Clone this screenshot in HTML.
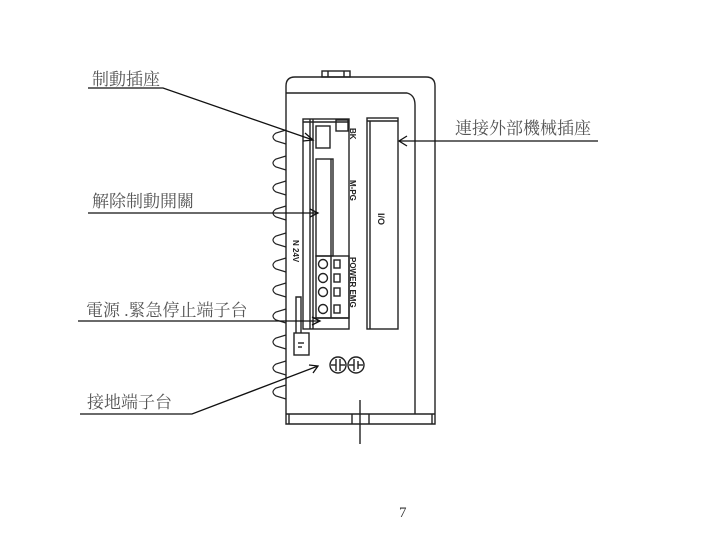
<!DOCTYPE html>
<html><head><meta charset="utf-8"><style>
html,body{margin:0;padding:0;background:#fff;}
svg{display:block}
.t{font-family:"Liberation Serif","Noto Serif CJK SC","Noto Sans CJK TC",serif;fill:#555;font-size:17px}
.s{font-family:"Liberation Sans",sans-serif;font-size:8px;font-weight:bold;fill:#222}
</style></head><body>
<svg width="727" height="557" viewBox="0 0 727 557" xmlns="http://www.w3.org/2000/svg">
<g fill="none" stroke="#222" stroke-width="1.4">
<path d="M286,424 L286,86 Q286,77 295,77 L426,77 Q435,77 435,86 L435,424 Z"/>
<rect x="322" y="71" width="28" height="6"/>
<line x1="328" y1="71" x2="328" y2="77"/><line x1="344" y1="71" x2="344" y2="77"/>
<path d="M286,93 L407,93 Q415,95 415,105 L415,414"/>
<line x1="286" y1="414" x2="435" y2="414"/>
<line x1="289" y1="414" x2="289" y2="424"/><line x1="352" y1="414" x2="352" y2="424"/>
<line x1="369" y1="414" x2="369" y2="424"/><line x1="432" y1="414" x2="432" y2="424"/>
<line x1="360" y1="400" x2="360" y2="444"/>
<rect x="303" y="119" width="46" height="210"/>
<line x1="310" y1="119" x2="310" y2="329"/><line x1="313" y1="119" x2="313" y2="329"/>
<line x1="303" y1="122" x2="349" y2="122"/>
<rect x="316" y="126" width="14" height="22"/>
<rect x="336" y="120" width="12" height="11"/>
<rect x="316" y="159" width="17" height="97"/>
<line x1="331" y1="159" x2="331" y2="318"/>
<rect x="316" y="256" width="33" height="62"/>
<line x1="313" y1="318" x2="349" y2="318"/>
<circle cx="323" cy="264" r="4.5"/><circle cx="323" cy="278" r="4.5"/><circle cx="323" cy="292" r="4.5"/><circle cx="323" cy="309" r="4.5"/>
<rect x="334" y="260" width="6" height="8"/><rect x="334" y="274" width="6" height="8"/><rect x="334" y="288" width="6" height="8"/><rect x="334" y="305" width="6" height="8"/>
<rect x="367" y="118" width="31" height="211"/>
<line x1="370" y1="121" x2="370" y2="329"/><line x1="367" y1="121" x2="398" y2="121"/>
<g stroke-width="1.2">
<path d="M286,130 L276,133 Q270,137 276,141 L286,144"/>
<path d="M286,156 L276,159 Q270,163 276,167 L286,170"/>
<path d="M286,181 L276,184 Q270,188 276,192 L286,195"/>
<path d="M286,206 L276,209 Q270,213 276,217 L286,220"/>
<path d="M286,233 L276,236 Q270,240 276,244 L286,247"/>
<path d="M286,258 L276,261 Q270,265 276,269 L286,272"/>
<path d="M286,283 L276,286 Q270,290 276,294 L286,297"/>
<path d="M286,309 L276,312 Q270,316 276,320 L286,323"/>
<path d="M286,335 L276,338 Q270,342 276,346 L286,349"/>
<path d="M286,361 L276,364 Q270,368 276,372 L286,375"/>
<path d="M286,385 L276,388 Q270,392 276,396 L286,399"/>
</g>
<path d="M296,333 L296,297 L301,297 L301,333"/>
<rect x="294" y="333" width="15" height="22"/>
<line x1="298" y1="343" x2="304" y2="343"/><line x1="298" y1="347" x2="302" y2="347"/>
<circle cx="338" cy="365" r="8"/><circle cx="356" cy="365" r="8"/>
<line x1="336" y1="359" x2="336" y2="371"/><line x1="340" y1="359" x2="340" y2="371"/><line x1="331" y1="365" x2="336" y2="365"/><line x1="340" y1="365" x2="345" y2="365"/>
<line x1="354" y1="359" x2="354" y2="371"/><line x1="358" y1="361" x2="358" y2="369"/><line x1="349" y1="365" x2="354" y2="365"/><line x1="358" y1="365" x2="363" y2="365"/>
<g stroke="#111" stroke-width="1.3">
<polyline points="88,88 163,88 313,140"/>
<path d="M305,133 L313,140 L303,141"/>
<line x1="399" y1="141" x2="598" y2="141"/>
<path d="M407,136 L399,141 L407,146"/>
<line x1="88" y1="213" x2="318" y2="213"/>
<path d="M310,209 L318,213 L310,217"/>
<line x1="78" y1="321" x2="320" y2="321"/>
<path d="M312,317 L320,321 L312,325"/>
<polyline points="80,414 192,414 318,366"/>
<path d="M309,365 L318,366 L313,373"/>
</g>
</g>
<text class="s" transform="translate(350,128) rotate(90)">BK</text>
<text class="s" transform="translate(350,180) rotate(90)">M-PG</text>
<text class="s" transform="translate(350,257) rotate(90)">POWER EMG</text>
<text class="s" transform="translate(293,240) rotate(90)">N 24V</text>
<text class="s" style="font-size:9px" transform="translate(378,213) rotate(90)">I/O</text>
<text class="t" x="92" y="85">制動插座</text>
<text class="t" x="455" y="134">連接外部機械插座</text>
<text class="t" x="92" y="207">解除制動開關</text>
<text class="t" x="86" y="316" xml:space="preserve">電源 .緊急停止端子台</text>
<text class="t" x="87" y="408">接地端子台</text>
<text x="399" y="517" style="font-family:'Liberation Serif',serif;font-size:15px;fill:#333">7</text>
</svg>
</body></html>
